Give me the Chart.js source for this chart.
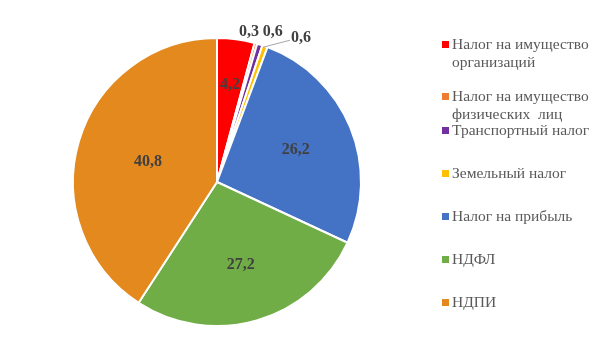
<!DOCTYPE html>
<html>
<head>
<meta charset="utf-8">
<script src="https://cdn.jsdelivr.net/npm/chart.js@4"></script>
<style>
  html, body { margin: 0; padding: 0; background: #fff; }
  #wrap { position: relative; width: 607px; height: 362px; }
  #legend { position: absolute; left: 0; top: 0; }
  .item { position: absolute; left: 442px; font-family: 'Liberation Serif', serif; font-size: 15.5px;
          line-height: 18px; color: #595959; white-space: nowrap; }
  .item i { position: absolute; left: 0; top: 6px; width: 7px; height: 7px; }
  .item span { display: block; padding-left: 10px; }
</style>
</head>
<body>
<div id="wrap">
  <canvas id="c" width="607" height="362"></canvas>
  <div id="legend"></div>
</div>
<script>
const labels = [
  ['Налог на имущество', 'организаций'],
  ['Налог на имущество', 'физических  лиц'],
  ['Транспортный налог'],
  ['Земельный налог'],
  ['Налог на прибыль'],
  ['НДФЛ'],
  ['НДПИ']
]
const values = [4.2, 0.3, 0.6, 0.6, 26.2, 27.2, 40.8]
const colors = ['#FF0000', '#ED7D31', '#7030A0', '#FFC000', '#4472C4', '#70AD47', '#E3891E']

// label placement: inside at a radius factor, or outside with a nudge
const inside = [0.68, null, null, null, 0.59, 0.6, 0.5]
const outside = { 1: [-7, -11], 2: [13, -13], 3: [36, -8] }
const leader = { 3: true }

const fmt = (v) => String(v).replace('.', ',')

const labelPlugin = {
  id: 'sliceLabels',
  afterDatasetsDraw(chart) {
    const ctx = chart.ctx
    const meta = chart.getDatasetMeta(0)
    ctx.save()
    ctx.font = 'bold 16px "Liberation Serif", serif'
    ctx.fillStyle = '#404040'
    ctx.textAlign = 'center'
    ctx.textBaseline = 'middle'
    meta.data.forEach((arc, i) => {
      const { x, y, startAngle, endAngle, outerRadius } = arc.getProps(['x', 'y', 'startAngle', 'endAngle', 'outerRadius'], true)
      const mid = (startAngle + endAngle) / 2
      if (inside[i] != null) {
        const r = outerRadius * inside[i]
        ctx.fillText(fmt(values[i]), x + Math.cos(mid) * r, y + Math.sin(mid) * r)
      } else {
        const ex = x + Math.cos(mid) * outerRadius
        const ey = y + Math.sin(mid) * outerRadius
        const [dx, dy] = outside[i]
        const lx = ex + dx
        const ly = ey + dy
        if (leader[i]) {
          ctx.strokeStyle = '#a6a6a6'
          ctx.lineWidth = 1
          ctx.beginPath()
          ctx.moveTo(ex - 2, ey + 1)
          ctx.lineTo(lx - 11, ly + 2)
          ctx.stroke()
        }
        ctx.fillText(fmt(values[i]), lx, ly)
      }
    })
    ctx.restore()
  }
}

new Chart(document.getElementById('c'), {
  type: 'pie',
  data: {
    labels: labels.map((l) => l.join(' ')),
    datasets: [{
      data: values,
      backgroundColor: colors,
      borderColor: '#ffffff',
      borderWidth: 2
    }]
  },
  options: {
    responsive: false,
    animation: false,
    layout: { padding: { left: 72, right: 245, top: 37, bottom: 35 } },
    plugins: { legend: { display: false }, tooltip: { enabled: false } }
  },
  plugins: [labelPlugin]
})

// legend
const legendTops = [35, 87, 121, 164, 207, 250, 293]
document.getElementById('legend').innerHTML = labels.map((l, i) => `
  <div class="item" style="top:${legendTops[i]}px">
    <i style="background:${colors[i]}"></i>
    ${l.map((t) => `<span>${t.replace(/ {2}/g, '&nbsp; ')}</span>`).join('')}
  </div>`).join('')
</script>
</body>
</html>
